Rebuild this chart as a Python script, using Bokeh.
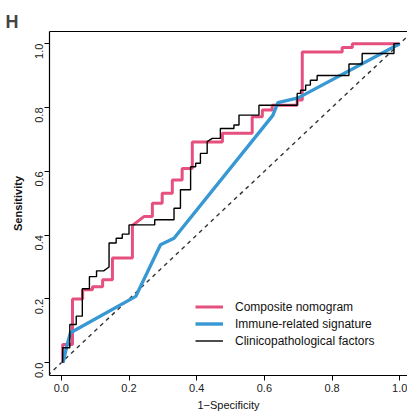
import math
from bokeh.plotting import figure
from bokeh.models import (Range1d, LinearAxis, FixedTicker, Legend, LegendItem,
                          PrintfTickFormatter)
from bokeh.embed import file_html
from bokeh.resources import INLINE

# ---- data ----
nomogram_fpr = [0.004, 0.004, 0.033, 0.033, 0.063, 0.063, 0.092, 0.092, 0.122, 0.122,
                0.151, 0.151, 0.210, 0.210, 0.244, 0.269, 0.269, 0.298, 0.298, 0.328,
                0.328, 0.357, 0.357, 0.387, 0.387, 0.476, 0.476, 0.564, 0.564, 0.594,
                0.594, 0.623, 0.623, 0.697, 0.697, 0.712, 0.712, 0.830, 0.830, 0.860,
                0.860, 1.000]
nomogram_tpr = [0.000, 0.057, 0.057, 0.200, 0.200, 0.229, 0.229, 0.238, 0.238, 0.260,
                0.260, 0.328, 0.328, 0.430, 0.458, 0.458, 0.500, 0.500, 0.531, 0.531,
                0.573, 0.573, 0.609, 0.609, 0.692, 0.692, 0.719, 0.719, 0.771, 0.771,
                0.792, 0.792, 0.807, 0.807, 0.823, 0.823, 0.974, 0.974, 0.988, 0.988,
                1.000, 1.000]

immune_fpr = [0.005, 0.018, 0.027, 0.220, 0.293, 0.333, 0.625, 0.640, 0.700, 1.000]
immune_tpr = [0.000, 0.060, 0.094, 0.208, 0.370, 0.390, 0.775, 0.815, 0.830, 1.000]

clinico_fpr = [0.004, 0.004, 0.025, 0.025, 0.044, 0.044, 0.062, 0.062, 0.083, 0.083,
               0.104, 0.104, 0.125, 0.141, 0.141, 0.162, 0.162, 0.180, 0.180, 0.200,
               0.200, 0.276, 0.276, 0.333, 0.333, 0.352, 0.352, 0.382, 0.382, 0.397,
               0.397, 0.411, 0.411, 0.431, 0.431, 0.446, 0.470, 0.470, 0.510, 0.510,
               0.525, 0.525, 0.584, 0.584, 0.697, 0.697, 0.707, 0.707, 0.722, 0.722,
               0.736, 0.736, 0.756, 0.756, 0.850, 0.850, 0.889, 0.889, 0.983, 0.983,
               1.000]
clinico_tpr = [0.000, 0.047, 0.047, 0.120, 0.120, 0.146, 0.146, 0.232, 0.232, 0.270,
               0.270, 0.288, 0.288, 0.300, 0.375, 0.375, 0.390, 0.390, 0.403, 0.403,
               0.432, 0.432, 0.448, 0.448, 0.484, 0.484, 0.542, 0.542, 0.614, 0.614,
               0.625, 0.625, 0.656, 0.656, 0.693, 0.703, 0.703, 0.734, 0.734, 0.745,
               0.745, 0.776, 0.776, 0.807, 0.807, 0.844, 0.844, 0.854, 0.854, 0.870,
               0.870, 0.885, 0.885, 0.900, 0.900, 0.936, 0.936, 0.969, 0.969, 1.000,
               1.000]

ref_line = [-0.04, 1.04]
tick_values = [0.0, 0.2, 0.4, 0.6, 0.8, 1.0]
series_names = ["Composite nomogram", "Immune-related signature", "Clinicopathological factors"]

PINK = "#E5507F"
BLUE = "#3798D4"
FONT = "Liberation Sans"

p = figure(width=407, height=413, output_backend="svg", toolbar_location=None,
           x_range=Range1d(-0.035, 1.023), y_range=Range1d(-0.04, 1.038),
           min_border_left=49, min_border_right=0, min_border_top=31,
           min_border_bottom=37, title="H")
p.grid.visible = False
p.outline_line_color = None
p.background_fill_color = "white"
p.border_fill_color = "white"

# panel letter as the plot title
p.title.text_font = FONT
p.title.text_font_size = "18px"
p.title.text_font_style = "bold"
p.title.align = "left"
p.title.offset = -44
p.title.standoff = 0

# reference diagonal
p.line(ref_line, ref_line, line_color="#333333", line_width=1.4, line_dash="4 4")

r_pink = p.line(nomogram_fpr, nomogram_tpr, line_color=PINK, line_width=3)
r_blue = p.line(immune_fpr, immune_tpr, line_color=BLUE, line_width=3.4)
r_black = p.line(clinico_fpr, clinico_tpr, line_color="black", line_width=1.4)

for ax in (p.xaxis[0], p.yaxis[0]):
    ax.ticker = FixedTicker(ticks=tick_values)
    ax.formatter = PrintfTickFormatter(format="%.1f")
    ax.minor_tick_line_color = None
    ax.major_tick_in = 0
    ax.major_tick_out = 5
    ax.major_tick_line_color = "black"
    ax.axis_line_color = "black"
    ax.axis_line_width = 1.2
    ax.major_label_text_font = FONT
    ax.major_label_text_font_size = "11px"
    ax.major_label_text_color = "#222222"
    ax.axis_label_text_font = FONT
    ax.axis_label_text_font_size = "11px"
    ax.axis_label_text_color = "#111111"

p.xaxis.axis_label = "1\u2212Specificity"
p.xaxis.axis_label_text_font_style = "normal"
p.xaxis.major_label_standoff = 3
p.xaxis.axis_label_standoff = 4

p.yaxis.axis_label = "Sensitivity"
p.yaxis.axis_label_text_font_style = "bold"
p.yaxis.major_label_orientation = math.pi / 2
p.yaxis.major_label_standoff = 5
p.yaxis.axis_label_standoff = 5

top_axis = LinearAxis(ticker=FixedTicker(ticks=[]), major_label_text_font_size="0px",
                      major_tick_line_color=None, minor_tick_line_color=None,
                      axis_line_color="black", axis_line_width=1.2)
p.add_layout(top_axis, "above")

legend = Legend(items=[LegendItem(label=series_names[0], renderers=[r_pink]),
                       LegendItem(label=series_names[1], renderers=[r_blue]),
                       LegendItem(label=series_names[2], renderers=[r_black])],
                location=(146, 26), border_line_color=None, background_fill_alpha=0,
                padding=0, margin=0, spacing=0, label_height=17, glyph_height=17,
                glyph_width=28, label_standoff=12, label_text_font=FONT,
                label_text_font_size="12px", label_text_color="#111111")
p.add_layout(legend)

open("out.html", "w").write(file_html(p, INLINE))
